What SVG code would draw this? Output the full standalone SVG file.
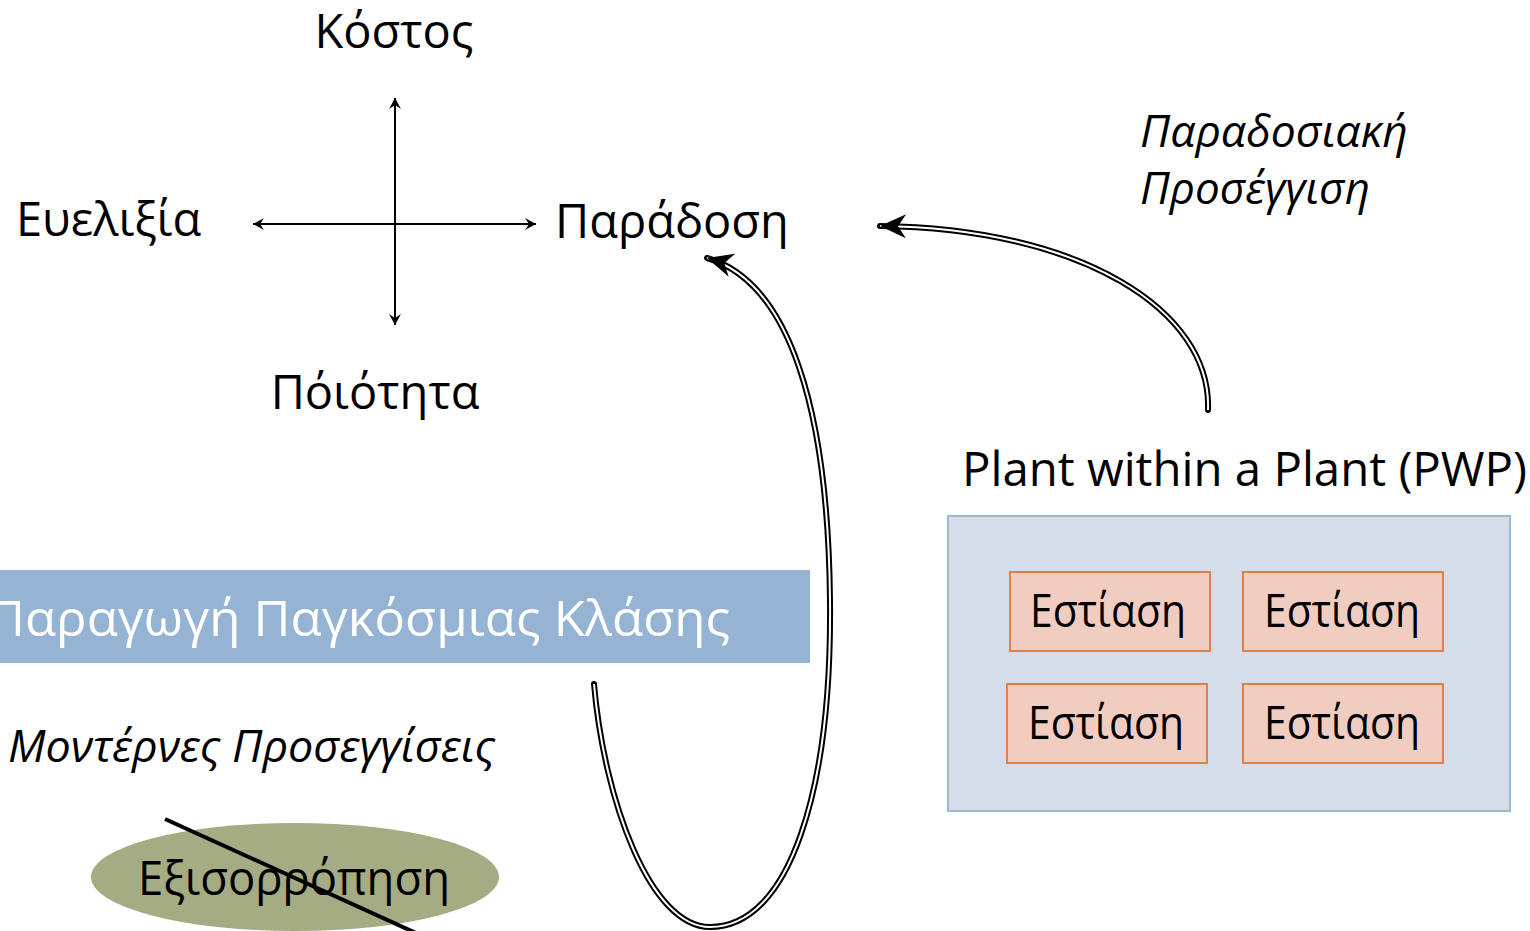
<svg xmlns="http://www.w3.org/2000/svg" width="1530" height="931" viewBox="0 0 1530 931">
<style>
.t{font-family:"Open Sans","Noto Sans","DejaVu Sans",sans-serif;font-size:47px;fill:#000}
.i{font-style:italic;font-size:43px}
.w{fill:#fff;font-size:49px}
.f{font-size:46px}
.ax{stroke:#000;stroke-width:2;fill:none}
.dl-o{stroke:#000;stroke-width:6;fill:none;stroke-linecap:round}
.dl-i{stroke:#fff;stroke-width:2;fill:none}
.focus{fill:#f0cdc0;stroke:#e0804a;stroke-width:2}
</style>
<defs>
<marker id="ah" viewBox="-12 -7 14 14" refX="0" refY="0" markerWidth="14" markerHeight="14" markerUnits="userSpaceOnUse" orient="auto-start-reverse">
<path d="M0,0 L-11,-6 L-7,0 L-11,6 Z" fill="#000"/>
</marker>
<marker id="big" viewBox="-30 -15 32 30" refX="0" refY="0" markerWidth="32" markerHeight="30" markerUnits="userSpaceOnUse" orient="auto" overflow="visible">
<path d="M0,0 L-26,-12 L-18,0 L-26,12 Z" fill="#000"/>
</marker>
</defs>
<rect width="1530" height="931" fill="#fff"/>

<g id="axes">
<line class="ax" x1="395" y1="98" x2="395" y2="325" marker-start="url(#ah)" marker-end="url(#ah)"/>
<line class="ax" x1="253" y1="224" x2="536" y2="224" marker-start="url(#ah)" marker-end="url(#ah)"/>
</g>

<g id="kostos"><text class="t" x="394" y="48" text-anchor="middle">Κόστος</text></g>
<g id="evelixia"><text class="t" x="16" y="236">Ευελιξία</text></g>
<g id="paradosi"><text class="t" x="555" y="238">Παράδοση</text></g>
<g id="poiotita"><text class="t" x="375" y="409" text-anchor="middle">Πόιότητα</text></g>

<g id="paradosiaki">
<text class="t i" x="1140" y="147" textLength="268" lengthAdjust="spacingAndGlyphs">Παραδοσιακή</text>
<text class="t i" x="1140" y="204" textLength="230" lengthAdjust="spacingAndGlyphs">Προσέγγιση</text>
</g>

<g id="banner">
<rect x="0" y="570" width="810" height="93" fill="#95b3d3"/>
<text class="t w" x="-12" y="636" textLength="742" lengthAdjust="spacingAndGlyphs">Παραγωγή Παγκόσμιας Κλάσης</text>
</g>

<g id="moderna"><text class="t i" x="8" y="762" textLength="487" lengthAdjust="spacingAndGlyphs">Μοντέρνες Προσεγγίσεις</text></g>

<g id="balance">
<ellipse cx="295" cy="877" rx="204" ry="54" fill="#a5ab82"/>
<text class="t" x="294" y="895" text-anchor="middle" textLength="312" lengthAdjust="spacingAndGlyphs">Εξισορρόπηση</text>
<line x1="165" y1="819" x2="416" y2="933" stroke="#000" stroke-width="4"/>
</g>

<g id="pwp">
<text class="t" x="962" y="486" textLength="565" lengthAdjust="spacingAndGlyphs">Plant within a Plant (PWP)</text>
<rect x="948" y="516" width="562" height="295" fill="#d4dee9" stroke="#9bbad8" stroke-width="2"/>
</g>
<g id="focus1"><rect class="focus" x="1010" y="572" width="200" height="79"/><text class="t f" x="1030" y="627" textLength="156" lengthAdjust="spacingAndGlyphs">Εστίαση</text></g>
<g id="focus2"><rect class="focus" x="1243" y="572" width="200" height="79"/><text class="t f" x="1264" y="627" textLength="156" lengthAdjust="spacingAndGlyphs">Εστίαση</text></g>
<g id="focus3"><rect class="focus" x="1007" y="684" width="200" height="79"/><text class="t f" x="1028" y="739" textLength="156" lengthAdjust="spacingAndGlyphs">Εστίαση</text></g>
<g id="focus4"><rect class="focus" x="1243" y="684" width="200" height="79"/><text class="t f" x="1264" y="739" textLength="156" lengthAdjust="spacingAndGlyphs">Εστίαση</text></g>

<g id="connectors">
<path class="dl-o" d="M1208,410 C1212,310 1080,228 880,226"/>
<path class="dl-i" d="M1208,410 C1212,310 1080,228 880,226" marker-end="url(#big)"/>
<path class="dl-o" d="M594,684 C604,800 650,927 710,927 C790,927 832,790 830,600 C828,410 790,282 707,258"/>
<path class="dl-i" d="M594,684 C604,800 650,927 710,927 C790,927 832,790 830,600 C828,410 790,282 707,258" marker-end="url(#big)"/>
</g>
</svg>
